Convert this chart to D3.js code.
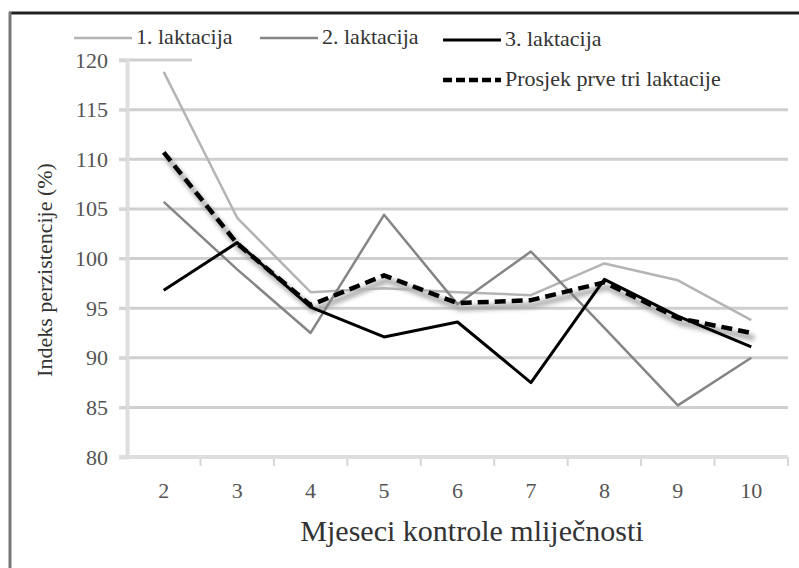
<!DOCTYPE html>
<html>
<head>
<meta charset="utf-8">
<script src="https://cdn.jsdelivr.net/npm/d3@7"></script>
<style>
  body { margin: 0; background: #fff; }
  svg text { font-family: "Liberation Serif", "DejaVu Serif", "Noto Serif", serif !important; }
</style>
</head>
<body>
<div id="chart"></div>
<script>
// mjeseci kontrole i indeksi perzistencije (%)
const months = ["2", "3", "4", "5", "6", "7", "8", "9", "10"];
const lakt1 = [118.8, 104.1, 96.6, 97.0, 96.6, 96.3, 99.5, 97.8, 93.8];
const lakt2 = [105.7, 98.9, 92.5, 104.4, 95.4, 100.7, 93.0, 85.2, 90.0];
const lakt3 = [96.8, 101.6, 95.1, 92.1, 93.6, 87.5, 97.9, 94.2, 91.1];
const prosjek = [110.7, 101.5, 95.3, 98.3, 95.5, 95.8, 97.6, 94.0, 92.5];
const yTicks = [80, 85, 90, 95, 100, 105, 110, 115, 120];

const series = [
    { name: "1. laktacija", values: lakt1, color: "#b4b4b4", width: 2.5 },
    { name: "2. laktacija", values: lakt2, color: "#858585", width: 2.5 },
    { name: "3. laktacija", values: lakt3, color: "#000", width: 3 },
    { name: "Prosjek prve tri laktacije", values: prosjek, color: "#000", width: 4.5, dash: "11,6", shadow: true },
];

const width = 799, height = 568;
const svg = d3.select("#chart").append("svg")
    .attr("width", width)
    .attr("height", height);

// zamućenje za sjenu isprekidane linije
svg.append("defs").append("filter")
    .attr("id", "blur")
    .attr("x", "-10%").attr("y", "-10%")
    .attr("width", "120%").attr("height", "130%")
    .append("feGaussianBlur")
    .attr("stdDeviation", 2.2);

// okvir (samo gornji i lijevi rub)
svg.append("line").attr("x1", 9).attr("x2", width).attr("y1", 13).attr("y2", 13)
    .attr("stroke", "#222").attr("stroke-width", 3);
svg.append("line").attr("x1", 10).attr("x2", 10).attr("y1", 12).attr("y2", height)
    .attr("stroke", "#777").attr("stroke-width", 3);

const plotLeft = 127, plotRight = 788, plotTop = 60, plotBottom = 457;

const x = d3.scaleBand().domain(months).range([plotLeft, plotRight]);
const y = d3.scaleLinear().domain([80, 120]).range([plotBottom, plotTop]);

// mreža
svg.append("g")
    .selectAll("line")
    .data(yTicks.filter(d => d > 80))
    .enter().append("line")
    .attr("x1", plotLeft - 8)
    .attr("x2", plotRight)
    .attr("y1", d => y(d))
    .attr("y2", d => y(d))
    .attr("stroke", "#cfcfcf")
    .attr("stroke-width", 3);

// y os
const yAxis = svg.append("g")
    .attr("transform", `translate(${plotLeft},0)`)
    .call(d3.axisLeft(y).tickValues(yTicks).tickSize(8).tickPadding(11));
yAxis.attr("font-family", null);
yAxis.select(".domain").attr("stroke", "#dedede").attr("stroke-width", 4);
yAxis.selectAll(".tick line").attr("stroke", "#d6d6d6").attr("stroke-width", 3);
yAxis.selectAll(".tick text")
    .attr("font-size", 22)
    .attr("fill", "#555");

// x os
const xAxis = svg.append("g")
    .attr("transform", `translate(0,${plotBottom})`)
    .call(d3.axisBottom(x).tickSize(0).tickPadding(0));
xAxis.attr("font-family", null);
xAxis.select(".domain").remove();
xAxis.append("line")
    .attr("x1", plotLeft - 8).attr("x2", plotRight)
    .attr("stroke", "#dedede").attr("stroke-width", 4);
xAxis.selectAll(".tick").append("line")
    .attr("x1", x.bandwidth() / 2).attr("x2", x.bandwidth() / 2)
    .attr("y1", 0).attr("y2", 9)
    .attr("stroke", "#d6d6d6").attr("stroke-width", 2);
xAxis.selectAll(".tick text")
    .attr("font-size", 22)
    .attr("fill", "#555")
    .attr("dy", null)
    .attr("y", 41);

// legenda prekriva dio mreže na 120
svg.append("rect")
    .attr("x", 192).attr("y", 50).attr("width", plotRight - 190).attr("height", 20)
    .attr("fill", "#fff");

// linije
const line = d3.line()
    .x((d, i) => x(months[i]) + x.bandwidth() / 2)
    .y(d => y(d));

// sjena ispod prosjeka
svg.append("path")
    .datum(series[3])
    .attr("d", d => line(d.values))
    .attr("transform", "translate(3,5)")
    .attr("fill", "none")
    .attr("stroke", "#9a9a9a")
    .attr("stroke-width", 6)
    .attr("stroke-linejoin", "round")
    .attr("opacity", 0.75)
    .attr("filter", "url(#blur)");

svg.append("g")
    .selectAll("path")
    .data(series)
    .enter().append("path")
    .attr("d", d => line(d.values))
    .attr("fill", "none")
    .attr("stroke", d => d.color)
    .attr("stroke-width", d => d.width)
    .attr("stroke-dasharray", d => d.dash || null)
    .attr("stroke-linejoin", "round");

// legenda
const legendPos = [
    { x: 74, y: 38 },
    { x: 260, y: 38 },
    { x: 443, y: 40 },
    { x: 443, y: 80 },
];
const legend = svg.append("g")
    .selectAll("g")
    .data(series)
    .enter().append("g")
    .attr("transform", (d, i) => `translate(${legendPos[i].x},${legendPos[i].y})`);
legend.append("line")
    .attr("x1", 0).attr("x2", 58)
    .attr("stroke", d => d.color)
    .attr("stroke-width", d => d.width)
    .attr("stroke-dasharray", d => d.dash ? "9,4" : null);
legend.append("text")
    .attr("x", 62)
    .attr("y", 6)
    .attr("font-size", 22)
    .attr("fill", "#333")
    .text(d => d.name);

// naslovi osi
svg.append("text")
    .attr("x", 472)
    .attr("y", 541)
    .attr("text-anchor", "middle")
    .attr("font-size", 30)
    .attr("fill", "#333")
    .text("Mjeseci kontrole mliječnosti");

svg.append("text")
    .attr("transform", "translate(52,270) rotate(-90)")
    .attr("text-anchor", "middle")
    .attr("font-size", 22)
    .attr("fill", "#333")
    .text("Indeks perzistencije (%)");
</script>
</body>
</html>
